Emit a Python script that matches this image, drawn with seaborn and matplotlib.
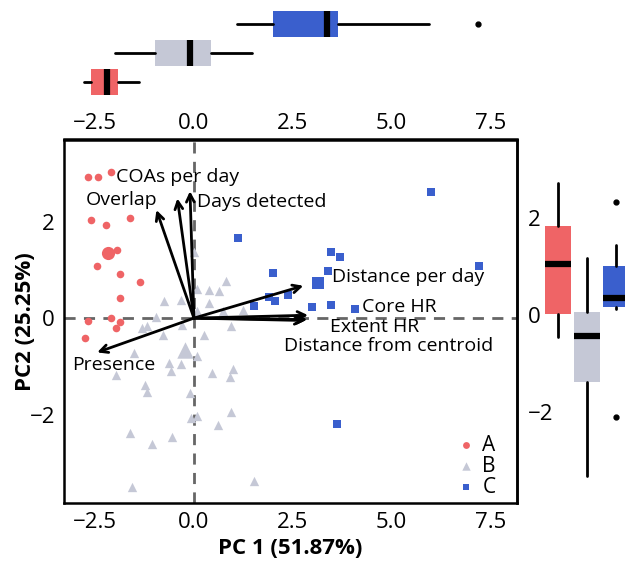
import numpy as np
import pandas as pd
import matplotlib
matplotlib.use("Agg")
import matplotlib.pyplot as plt
import seaborn as sns

# scores, one pair of lists per group
a_pc1 = [-2.69, -2.44, -2.11, -2.61, -2.22, -1.63, -1.96, -2.46, -1.87, -1.36, -1.87,
         -2.68, -2.10, -1.87, -1.98, -2.77]
a_pc2 = [2.93, 2.92, 3.03, 2.03, 1.92, 2.07, 1.42, 1.07, 0.91, 0.74, 0.41,
         -0.06, 0.01, -0.08, -0.21, -0.41]
b_pc1 = [0.00, 0.81, 0.08, 0.37, 0.64, -0.75, -0.32, 0.37, 0.09, 1.24, 0.73, -0.97,
         -1.32, -1.20, -0.78, -0.30, 0.26, 0.93, -1.52, 0.08, -0.63, -0.34, -0.57, -1.98,
         0.45, 0.98, 0.91, -1.24, -1.18, -0.09, 0.93, 0.08, -0.08, 0.62, -1.63, -0.56,
         -1.05, 1.52, -1.58]
b_pc2 = [1.37, 0.77, 0.60, 0.59, 0.56, 0.36, 0.38, 0.32, 0.15, 0.16, 0.14, 0.02,
         -0.21, -0.16, -0.34, -0.15, -0.35, -0.17, -0.73, -0.78, -0.93, -0.95, -1.09, -1.18,
         -1.13, -1.06, -1.22, -1.39, -1.54, -1.56, -1.95, -2.02, -2.07, -2.22, -2.37, -2.47,
         -2.61, -3.37, -3.50]
c_pc1 = [6.01, 3.48, 3.70, 7.22, 3.40, 2.39, 3.00, 3.48, 4.08, 1.12, 2.01, 1.53, 1.90, 2.06, 3.63]
c_pc2 = [2.61, 1.36, 1.26, 1.08, 0.97, 0.47, 0.24, 0.28, 0.18, 1.65, 0.93, 0.25, 0.44, 0.36, -2.20]

groups = ["A", "B", "C"]
centroid_pc1 = [-2.17, -0.23, 3.15]
centroid_pc2 = [1.35, -0.66, 0.73]

# variable loadings (arrow tips) and where their labels sit
var_names = ["COAs per day", "Overlap", "Days detected", "Distance per day",
             "Core HR", "Extent HR", "Distance from centroid", "Presence"]
var_x = [-0.42, -0.95, -0.10, 2.77, 2.89, 2.87, 2.82, -2.45]
var_y = [2.48, 2.24, 2.63, 0.67, 0.06, -0.03, -0.05, -0.71]
lab_x = [-0.41, -1.82, 1.72, 5.42, 5.20, 4.58, 4.94, -2.04]
lab_y = [2.93, 2.45, 2.40, 0.85, 0.23, -0.19, -0.58, -0.97]

# marginal box stats: whislo, q1, med, q3, whishi
pc1_box = {"A": [-2.78, -2.60, -2.20, -1.92, -1.39],
           "B": [-2.00, -0.98, -0.10, 0.43, 1.47],
           "C": [1.09, 2.00, 3.38, 3.64, 5.96]}
pc1_out = {"A": [], "B": [], "C": [7.20]}
pc2_box = {"A": [-0.45, 0.02, 1.05, 1.83, 2.72],
           "B": [-3.32, -1.38, -0.43, 0.06, 1.17],
           "C": [0.12, 0.16, 0.35, 1.01, 1.44]}
pc2_out = {"A": [], "B": [], "C": [2.33, -2.10]}

colors = {"A": "#EF6466", "B": "#C5C8D6", "C": "#3A5FCD"}
markers = {"A": "o", "B": "^", "C": "s"}
sizes = {"A": 30, "B": 45, "C": 30}
big_sizes = {"A": 90, "B": 140, "C": 75}

df = pd.DataFrame({
    "PC1": a_pc1 + b_pc1 + c_pc1,
    "PC2": a_pc2 + b_pc2 + c_pc2,
    "group": ["A"] * len(a_pc1) + ["B"] * len(b_pc1) + ["C"] * len(c_pc1),
})
cent = pd.DataFrame({"PC1": centroid_pc1, "PC2": centroid_pc2, "group": groups})

sns.set_style("white")
plt.rcParams["font.family"] = ["Open Sans", "DejaVu Sans"]
plt.rcParams["text.color"] = "black"
plt.rcParams["axes.labelcolor"] = "black"
plt.rcParams["xtick.color"] = "black"
plt.rcParams["ytick.color"] = "black"

W, H = 625, 563
fig = plt.figure(figsize=(6.25, 5.63), dpi=100)
ax = fig.add_axes([64 / W, 1 - 503 / H, (517 - 64) / W, (503 - 140) / H])
top = fig.add_axes([64 / W, 1 - 139 / H, (517 - 64) / W, 139 / H])
right = fig.add_axes([517 / W, 1 - 503 / H, 123 / W, (503 - 140) / H])

xlim = (-3.29, 8.18)

# main biplot
ax.axhline(0, color="#666666", lw=2, ls=(0, (4, 3)), zorder=1)
ax.axvline(0, color="#666666", lw=2, ls=(0, (4, 3)), zorder=1)
for g in groups:
    sub = df[df.group == g]
    sns.scatterplot(data=sub, x="PC1", y="PC2", color=colors[g], marker=markers[g],
                    s=sizes[g], linewidth=0, ax=ax, label=g, zorder=2)
    c = cent[cent.group == g]
    sns.scatterplot(data=c, x="PC1", y="PC2", color=colors[g], marker=markers[g],
                    s=big_sizes[g], linewidth=0, ax=ax, legend=False, zorder=2)

for name, vx, vy, tx, ty in zip(var_names, var_x, var_y, lab_x, lab_y):
    ax.annotate("", xy=(vx, vy), xytext=(0, 0),
                arrowprops=dict(arrowstyle="->", lw=2, color="black",
                                shrinkA=0, shrinkB=0, mutation_scale=14), zorder=3)
    ax.text(tx, ty, name, ha="center", va="center", fontsize=14, zorder=4)

ax.set_xlim(*xlim)
ax.set_ylim(-3.83, 3.69)
ax.set_xticks([-2.5, 0.0, 2.5, 5.0, 7.5])
ax.set_xticklabels(["\u22122.5", "0.0", "2.5", "5.0", "7.5"])
ax.set_yticks([-2, 0, 2])
ax.set_yticklabels(["\u22122", "0", "2"])
ax.tick_params(labelsize=16, length=3, width=1.2, color="black")
ax.set_xlabel("PC 1 (51.87%)", fontsize=16, fontweight="bold")
ax.set_ylabel("PC2 (25.25%)", fontsize=16, fontweight="bold")
ax.xaxis.set_label_coords(0.5, (503 - 538) / 363)
ax.yaxis.set_label_coords((36 - 64) / 453, 0.5)
for sp in ax.spines.values():
    sp.set_color("black")
    sp.set_linewidth(1.8)
ax.legend(loc="lower right", bbox_to_anchor=(0.965, 0.0), borderaxespad=0, borderpad=0.25,
          frameon=False, fontsize=15, handletextpad=0.2, labelspacing=0.0,
          handlelength=1.2, markerscale=0.9)


def box_stats(box, out):
    st = []
    for g in groups:
        lo, q1, med, q3, hi = box[g]
        st.append(dict(whislo=lo, q1=q1, med=med, q3=q3, whishi=hi, fliers=out[g], label=g))
    return st


kw = dict(positions=[0, 1, 2], widths=0.9, patch_artist=True, showcaps=False,
          boxprops=dict(linewidth=0),
          whiskerprops=dict(color="black", linewidth=2),
          medianprops=dict(color="black", linewidth=4.5, solid_capstyle="butt"),
          flierprops=dict(marker="o", markersize=3.5, markerfacecolor="black",
                          markeredgecolor="black"))

# top marginal: PC1
bp = top.bxp(box_stats(pc1_box, pc1_out), orientation="horizontal", **kw)
for patch, g in zip(bp["boxes"], groups):
    patch.set_facecolor(colors[g])
top.set_xlim(*xlim)
top.set_ylim(-1.97, 2.83)
top.set_yticks([])
top.set_xticks([-2.5, 0.0, 2.5, 5.0, 7.5])
top.set_xticklabels(["\u22122.5", "0.0", "2.5", "5.0", "7.5"])
top.tick_params(axis="x", labelsize=16, length=2, width=1.2, pad=-21)
for s in ["left", "right", "top"]:
    top.spines[s].set_visible(False)
top.spines["bottom"].set_linewidth(1.8)
top.spines["bottom"].set_color("black")
top.patch.set_alpha(0)

# right marginal: PC2
bp = right.bxp(box_stats(pc2_box, pc2_out), orientation="vertical", **kw)
for patch, g in zip(bp["boxes"], groups):
    patch.set_facecolor(colors[g])
right.set_xlim(-1.41, 2.83)
right.set_ylim(-3.88, 3.61)
right.set_xticks([])
right.set_yticks([-2, 0, 2])
right.set_yticklabels(["\u22122", "0", "2"])
right.tick_params(axis="y", labelsize=16, length=2, width=1.2, pad=-10)
for lab in right.get_yticklabels():
    lab.set_horizontalalignment("left")
for s in ["right", "top", "bottom"]:
    right.spines[s].set_visible(False)
right.spines["left"].set_linewidth(1.8)
right.spines["left"].set_color("black")
right.patch.set_alpha(0)

fig.savefig("out.png", dpi=100)
